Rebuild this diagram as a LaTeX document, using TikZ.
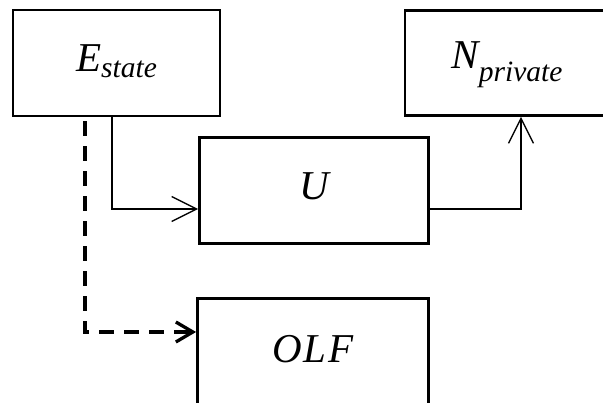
\documentclass[tikz,border=0pt]{standalone}
\usepackage{fontspec}
\setmainfont{Liberation Serif}
\usetikzlibrary{arrows.meta}
\tikzset{
  box/.style={draw, line width=2.8pt, inner sep=0pt, rectangle, font=\fontsize{41}{41}\selectfont\itshape},
  conn/.style={line width=1.3pt, -{Straight Barb[length=25pt,width=25pt,line width=1.3pt]}},
  dconn/.style={line width=3.3pt, dash pattern=on 15pt off 10pt, -{Straight Barb[length=17pt,width=20pt,line width=3.3pt]}},
}
\newcommand{\subtxt}[2]{\raisebox{-#1}{\fontsize{29.5}{29.5}\selectfont #2}}
\begin{document}
\begin{tikzpicture}[x=1pt,y=-1pt]
\useasboundingbox (0,0) rectangle (603,403);
\node[box, minimum width=207pt, minimum height=106pt, text height=18pt, text depth=0pt] (E) at (116.5,63) {E\subtxt{6pt}{state}};
\node[box, minimum width=229pt, minimum height=106pt, text height=19pt, text depth=0pt] (U) at (314,190.5) {U};
\node[box, minimum width=204pt, minimum height=105pt, text height=12pt, text depth=0pt] (N) at (507,63) {N\subtxt{13pt}{private}};
\node[box, minimum width=231pt, minimum height=106pt, text height=23pt, text depth=0pt] (O) at (313,351.5) {O\kern2pt L\kern2pt F};
\draw[conn] ([xshift=-4.5pt]E.south) |- ([yshift=-18.5pt]U.west);
\draw[conn] ([yshift=-18.5pt]U.east) -| ([xshift=14pt]N.south);
\draw[dconn] ([xshift=-31.5pt,yshift=-4pt]E.south) |- ([yshift=19.5pt]O.west);
\end{tikzpicture}
\end{document}
